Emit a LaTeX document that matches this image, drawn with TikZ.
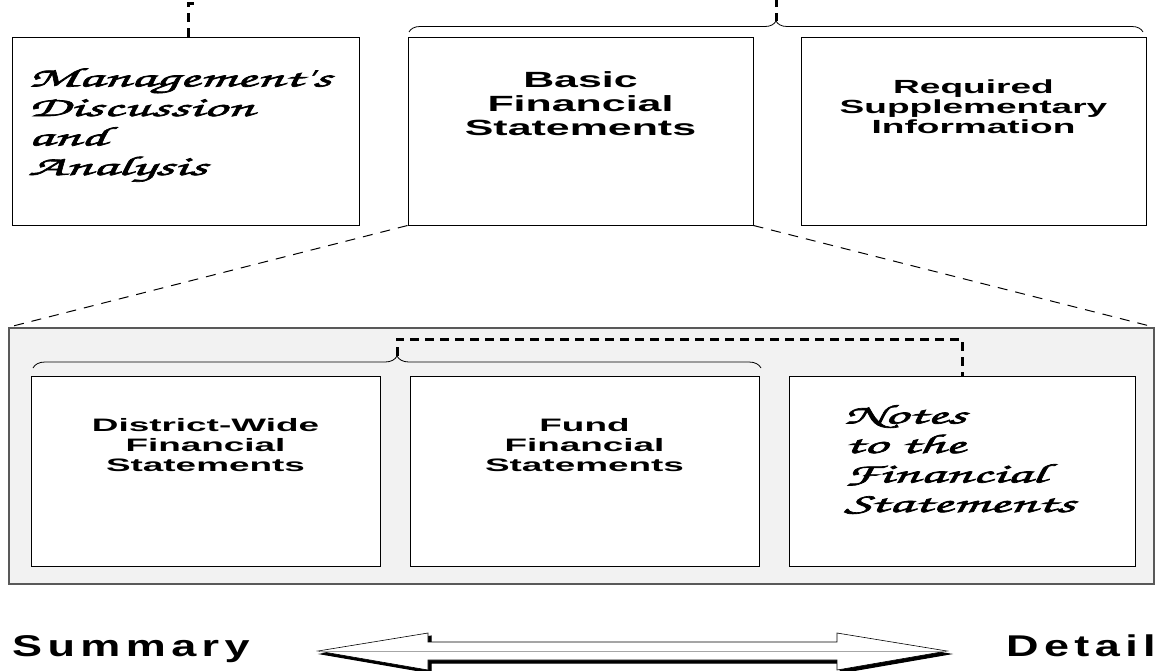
\documentclass[tikz,border=0pt]{standalone}
\usepackage{fontspec}
\usetikzlibrary{calc,positioning,decorations.pathreplacing}
\newfontfamily\blockfont{Liberation Sans}[FakeStretch=1.95]
\newfontfamily\lowfont{Liberation Sans}[FakeStretch=2.05]
\newfontfamily\wordfont{Liberation Sans}[FakeStretch=1.5,LetterSpace=18]
\newfontfamily\brushfont{texgyrechorus-mediumitalic.otf}[FakeStretch=2.2,FakeBold=2.5]
\def\twoway[#1](#2){\draw[#1,shift={(#2)}] (318,651) -- (428,633) -- (428,642) -- (837,642) -- (837,633) -- (947,651) -- (837,670) -- (837,660) -- (428,660) -- (428,670) -- cycle;}
\tikzset{
  card/.style={draw=black, line width=1pt, fill=white, inner sep=0pt},
  panel/.style={draw=black!65, line width=1.5pt, fill=black!5, inner sep=0pt},
  bigtext/.style={font=\blockfont\bfseries\fontsize{22}{24}\selectfont, align=center, inner sep=0pt},
  midtext/.style={font=\blockfont\bfseries\fontsize{19}{20}\selectfont, align=center, inner sep=0pt},
  smalltext/.style={font=\lowfont\bfseries\fontsize{18}{20}\selectfont, align=center, inner sep=0pt},
  brushtext/.style={font=\brushfont\fontsize{27}{29.5}\selectfont, align=left, inner sep=0pt},
  endword/.style={font=\wordfont\bfseries\fontsize{30}{32}\selectfont, anchor=base west, inner sep=0pt},
  linkline/.style={line width=3pt, dash pattern=on 9pt off 6pt},
  zoomline/.style={line width=1pt, dash pattern=on 10pt off 8pt},
  bracket/.style={decorate, line width=0.8pt, decoration={brace, amplitude=#1}}
}
\begin{document}
\begin{tikzpicture}[x=1pt,y=-1pt]
			\useasboundingbox (0,0) rectangle (1156,670);
			%%%%% TOP ROW %%%%%
			\node[card, minimum width=347, minimum height=188] (mda) at (185.5,131) {};
			\node[card, minimum width=345, minimum height=188] (basic) at (580.5,131) {};
			\node[card, minimum width=345, minimum height=188] (rsi) at (973.5,131) {};
			
			% base anchor sits on the last line
			\node[brushtext, anchor=base west] (mdaT) at (28,175) {Management's\\Discussion\\and\\Analysis};
			\node[bigtext, anchor=base] (basicT) at (580.5,135) {Basic\\Financial\\Statements};
			\node[midtext, anchor=base] (rsiT) at (973.5,133) {Required\\Supplementary\\Information};
			
			\draw[bracket=11pt] (409,32) -- (1143,32);
			\coordinate (topTip) at (776,21);
			\coordinate (topEnd) at (776,0);
			\draw[linkline, dash pattern=on 8pt off 6pt] (topTip) -- (topEnd);
			\coordinate (mdaEnd) at (196,3);
			\draw[linkline] ([xshift=2.5]mda.north) |- (mdaEnd);
			
			%%%%% BASIC STATEMENTS PANEL %%%%%
			\node[panel, minimum width=1145, minimum height=256] (pane) at (581.5,456) {};
			\draw[zoomline] (basic.south west) -- (pane.north west);
			\draw[zoomline] (basic.south east) -- (pane.north east);
			
			\node[card, minimum width=349, minimum height=190] (dwide) at (205.5,471) {};
			\node[card, minimum width=349, minimum height=190] (fund) at (584.5,471) {};
			\node[card, minimum width=346, minimum height=190] (notes) at (962,471) {};
			
			\node[smalltext, anchor=base] (dwideT) at (205.5,471) {District-Wide\\Financial\\Statements};
			\node[smalltext, anchor=base] (fundT) at (584.5,471) {Fund\\Financial\\Statements};
			\node[brushtext, anchor=base west] (notesT) at (844,512) {Notes\\to the\\Financial\\Statements};
			
			\draw[bracket=12pt] (33,368) -- (761,368);
			\coordinate (subTip) at (397,356);
			\coordinate (bend) at (700,339);
			\draw[linkline] (subTip) |- (bend) -| (notes.north);
			
			%%%%% SUMMARY / DETAIL %%%%%
			\twoway[fill=black, draw=black, line width=1pt](3,3)
			\twoway[fill=white, draw=black, line width=0.6pt](0,0)
			\draw[black!35, line width=0.6pt] (320,651) -- (945,651);
			\node[endword] (summ) at (12,656) {Summary};
			\node[endword] (detl) at (1006,656) {Detail};
\end{tikzpicture}
\end{document}
